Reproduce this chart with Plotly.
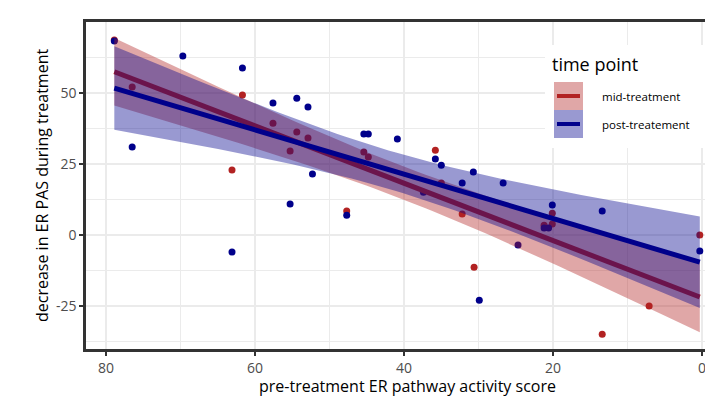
import numpy as np
import plotly.graph_objects as go

# ---- data ----
mid_x = [78.9, 76.5, 63.1, 61.7, 57.6, 55.3, 54.4, 52.9, 47.7, 45.4, 44.8,
         35.8, 35.0, 32.2, 30.6, 21.2, 20.1, 20.1, 13.4, 7.1, 0.3]
mid_y = [68.7, 52.1, 22.9, 49.3, 39.4, 29.6, 36.3, 34.2, 8.5, 29.2, 27.5,
         29.9, 18.3, 7.4, -11.3, 3.5, 7.7, 3.9, -34.9, -25.0, 0.0]

post_x = [78.9, 76.5, 69.7, 63.1, 61.7, 57.6, 55.3, 54.4, 52.9, 52.3, 47.7,
          45.4, 44.8, 40.9, 37.4, 35.8, 35.0, 32.2, 30.7, 29.9, 26.7, 24.7,
          21.2, 20.6, 20.1, 13.4, 0.3]
post_y = [68.3, 31.0, 63.0, -6.0, 58.8, 46.5, 10.9, 48.2, 45.1, 21.5, 7.0,
          35.6, 35.6, 33.8, 15.1, 26.8, 24.6, 18.3, 22.2, -22.9, 18.3, -3.5,
          2.5, 2.5, 10.6, 8.5, -5.6]

x_ticks = [80, 60, 40, 20, 0]
y_ticks = [-25, 0, 25, 50]
series_names = ["mid-treatment", "post-treatement"]
x_title = "pre-treatment ER pathway activity score"
y_title = "decrease in ER PAS during treatment"
legend_title = "time point"

RED = "#b22222"
BLUE = "#00008b"
RED_FILL = "rgba(178,34,34,0.4)"
BLUE_FILL = "rgba(0,0,139,0.4)"


def t_quantile(df, z=1.959964):
    # Cornish-Fisher expansion for the 97.5% t quantile
    return (z + (z**3 + z) / (4 * df) + (5 * z**5 + 16 * z**3 + 3 * z) / (96 * df**2)
            + (3 * z**7 + 19 * z**5 + 17 * z**3 - 15 * z) / (384 * df**3))


def lm_fit(x, y, n_grid=80):
    x = np.asarray(x, float)
    y = np.asarray(y, float)
    n = len(x)
    b, a = np.polyfit(x, y, 1)
    resid = y - (a + b * x)
    s = np.sqrt(np.sum(resid**2) / (n - 2))
    xbar = x.mean()
    sxx = np.sum((x - xbar) ** 2)
    g = np.linspace(x.min(), x.max(), n_grid)
    fit = a + b * g
    se = s * np.sqrt(1.0 / n + (g - xbar) ** 2 / sxx)
    t = t_quantile(n - 2)
    return g, fit, fit - t * se, fit + t * se


fig = go.Figure()

# points first (smooth layer drawn on top, as in ggplot)
fig.add_trace(go.Scatter(x=mid_x, y=mid_y, mode="markers",
                         marker=dict(color=RED, size=7), showlegend=False))
fig.add_trace(go.Scatter(x=post_x, y=post_y, mode="markers",
                         marker=dict(color=BLUE, size=7), showlegend=False))

for (xs, ys, lc, fc) in [(mid_x, mid_y, RED, RED_FILL), (post_x, post_y, BLUE, BLUE_FILL)]:
    g, fit, lo, hi = lm_fit(xs, ys)
    fig.add_trace(go.Scatter(x=np.concatenate([g, g[::-1]]),
                             y=np.concatenate([hi, lo[::-1]]),
                             fill="toself", fillcolor=fc, mode="lines",
                             line=dict(width=0), hoverinfo="skip", showlegend=False))
    fig.add_trace(go.Scatter(x=g, y=fit, mode="lines",
                             line=dict(color=lc, width=5), showlegend=False))

FONT = "Open Sans"
axis_common = dict(
    showline=True, linecolor="#333333", linewidth=2.5,
    ticks="outside", ticklen=4, tickwidth=2, tickcolor="#333333",
    showgrid=True, gridcolor="#ebebeb", gridwidth=2,
    zeroline=False, ticklabeloverflow="allow",
    tickfont=dict(family=FONT, size=14, color="#4d4d4d"),
)

fig.update_xaxes(range=[82.7, -0.4], tickvals=x_ticks, mirror=True,
                 ticktext=[str(v) for v in x_ticks],
                 minor=dict(dtick=10, showgrid=True, gridcolor="#ebebeb", gridwidth=1),
                 **axis_common)
fig.update_yaxes(range=[-40.1, 75], tickvals=y_ticks, mirror=False,
                 ticktext=[str(v) for v in y_ticks],
                 minor=dict(tick0=12.5, dtick=25, showgrid=True, gridcolor="#ebebeb", gridwidth=1),
                 **axis_common)

# layout helpers in pixel space -> paper coordinates
W, H = 705, 397
L, R, T, B = 86, 0, 22, 48
pw, ph = W - L - R, H - T - B


def px(xp):
    return (xp - L) / pw


def py(yp):
    return 1 - (yp - T) / ph


shapes = [
    dict(type="rect", xref="paper", yref="paper", x0=px(545), x1=px(712), y0=py(148), y1=py(45),
         fillcolor="white", line=dict(width=0), layer="above"),
]
key_rows = [(82, 110, RED_FILL, RED), (110, 138, BLUE_FILL, BLUE)]
for (y0, y1, fc, lc) in key_rows:
    shapes.append(dict(type="rect", xref="paper", yref="paper", x0=px(554), x1=px(583),
                       y0=py(y1), y1=py(y0), fillcolor=fc, line=dict(width=0), layer="above"))
    ym = (y0 + y1) / 2
    shapes.append(dict(type="line", xref="paper", yref="paper", x0=px(557), x1=px(580),
                       y0=py(ym), y1=py(ym), line=dict(color=lc, width=4), layer="above"))

annotations = [
    dict(text=legend_title, xref="paper", yref="paper", x=px(550), y=py(64),
         xanchor="left", yanchor="middle", showarrow=False,
         font=dict(family=FONT, size=18, color="#000000")),
    dict(text=x_title, xref="paper", yref="paper", x=px(407), y=py(386),
         xanchor="center", yanchor="middle", showarrow=False,
         font=dict(family=FONT, size=16, color="#000000")),
    dict(text=y_title, xref="paper", yref="paper", x=px(42), y=py(186),
         xanchor="center", yanchor="middle", showarrow=False, textangle=-90,
         font=dict(family=FONT, size=16, color="#000000")),
]
for name, (y0, y1, _, _) in zip(series_names, key_rows):
    annotations.append(dict(text=name, xref="paper", yref="paper", x=px(600), y=py((y0 + y1) / 2),
                            xanchor="left", yanchor="middle", showarrow=False,
                            font=dict(family=FONT, size=11.5, color="#000000")))

fig.update_layout(
    width=W, height=H,
    margin=dict(l=L, r=R, t=T, b=B),
    paper_bgcolor="white", plot_bgcolor="white",
    showlegend=False,
    shapes=shapes, annotations=annotations,
)

fig.write_html("out.html")
